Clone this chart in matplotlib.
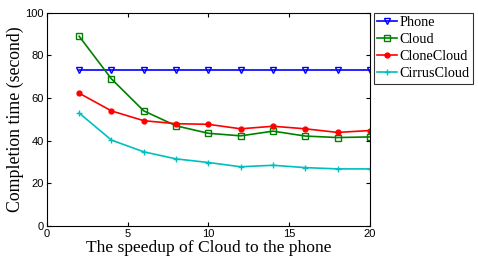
import matplotlib
matplotlib.use('Agg')
import matplotlib.pyplot as plt

speedup = [2, 4, 6, 8, 10, 12, 14, 16, 18, 20]
phone = [73, 73, 73, 73, 73, 73, 73, 73, 73, 73]
cloud = [89, 69, 54, 47, 43.5, 42.3, 44.5, 42.2, 41.5, 41.8]
clonecloud = [62.3, 54, 49.4, 48, 47.7, 45.6, 46.8, 45.6, 43.9, 44.8]
cirruscloud = [53, 40.3, 34.8, 31.5, 29.8, 27.8, 28.5, 27.4, 26.8, 26.8]

serif = 'Liberation Serif'
sans = 'Liberation Sans'

fig = plt.figure(figsize=(4.78, 2.56), dpi=100)
ax = fig.add_axes([0.098, 0.117, 0.676, 0.833])

ax.plot(speedup, phone, color='blue', marker='v', mfc='none', ms=5, lw=1.2, label='Phone')
ax.plot(speedup, cloud, color=(0, 0.5, 0), marker='s', mfc='none', ms=4.5, lw=1.2, label='Cloud')
ax.plot(speedup, clonecloud, color='red', marker='o', ms=3.5, lw=1.2, label='CloneCloud')
ax.plot(speedup, cirruscloud, color=(0, 0.75, 0.75), marker='+', ms=5, lw=1.2, label='CirrusCloud')

ax.set_xlim(0, 20)
ax.set_ylim(0, 100)
ax.set_xticks([0, 5, 10, 15, 20])
ax.set_yticks([0, 20, 40, 60, 80, 100])
ax.tick_params(direction='in', top=True, right=True, length=3, labelsize=8, pad=2)
for t in ax.get_xticklabels() + ax.get_yticklabels():
    t.set_fontfamily(sans)

ax.set_xlabel('The speedup of Cloud to the phone', family=serif, fontsize=12.6, labelpad=1)
ax.set_ylabel('Completion time (second)', family=serif, fontsize=12.8, labelpad=1)

leg = ax.legend(loc='upper left', bbox_to_anchor=(1.012, 1.0), prop={'family': serif, 'size': 10.2},
                frameon=True, fancybox=False, edgecolor='black', borderpad=0.25,
                handlelength=1.4, handletextpad=0.15, labelspacing=0.28, borderaxespad=0)
leg.get_frame().set_linewidth(0.8)

fig.savefig('out.png', dpi=100)
